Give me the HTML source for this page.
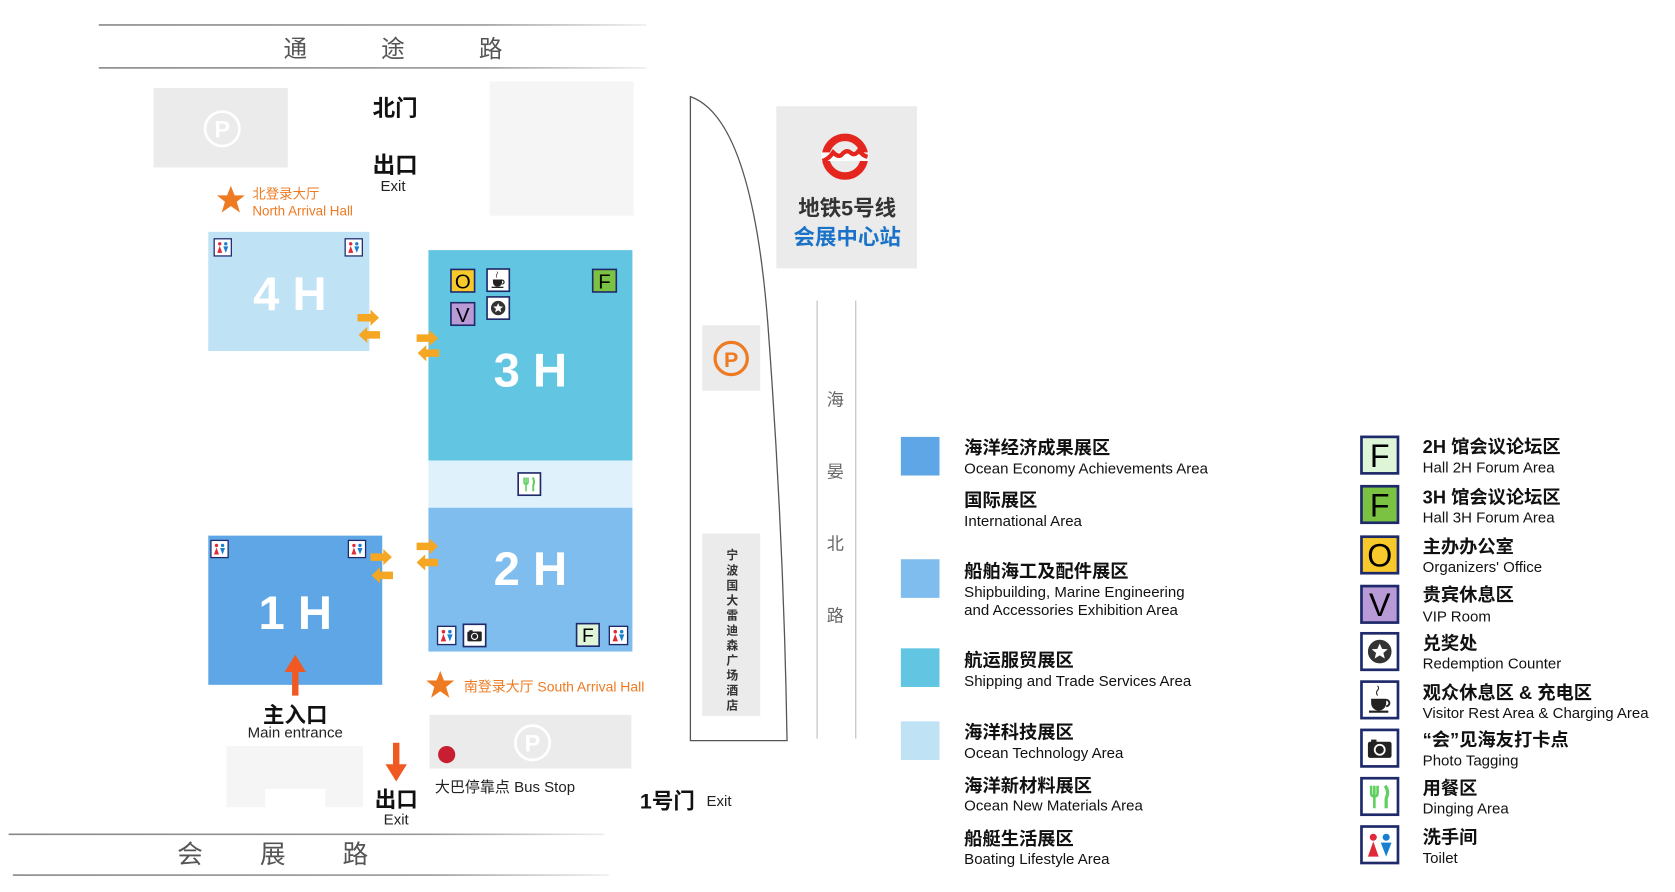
<!DOCTYPE html>
<html><head><meta charset="utf-8"><style>
html,body{margin:0;padding:0;background:#fff;}
svg{display:block;}
text{font-family:"Liberation Sans","Noto Sans CJK SC",sans-serif;}
</style></head><body>
<svg width="1675" height="892" viewBox="0 0 1560 831" preserveAspectRatio="none" xmlns="http://www.w3.org/2000/svg">
<defs>
<linearGradient id="rl" x1="0" x2="1"><stop offset="0" stop-color="#888"/><stop offset="0.7" stop-color="#999"/><stop offset="1" stop-color="#eee"/></linearGradient>
<g id="star"><rect x="1" y="1" width="34" height="34" fill="#fff" stroke="#1f2a6b" stroke-width="2.5"/><circle cx="18" cy="18" r="11" fill="#333"/><polygon points="18,10.5 20.2,15.5 25.5,15.8 21.4,19.2 22.7,24.5 18,21.6 13.3,24.5 14.6,19.2 10.5,15.8 15.8,15.5" fill="#fff"/></g>
<g id="cup"><rect x="1" y="1" width="34" height="34" fill="#fff" stroke="#1f2a6b" stroke-width="2.5"/><path d="M10 17 h14 v4 a7 7 0 0 1 -14 0z" fill="#222"/><path d="M24 18 a3 3 0 0 1 0 6" fill="none" stroke="#222" stroke-width="1.8"/><rect x="8" y="28" width="18" height="2" fill="#222"/><path d="M16 14 q-2 -3 0 -5 q2 -2 0 -4" fill="none" stroke="#222" stroke-width="1"/></g>
<g id="cam"><rect x="1" y="1" width="34" height="34" fill="#fff" stroke="#1f2a6b" stroke-width="2.5"/><rect x="7" y="12" width="22" height="15" rx="2" fill="#222"/><rect x="10" y="10" width="5" height="3" fill="#222"/><circle cx="18" cy="19.5" r="5.5" fill="#fff"/><circle cx="18" cy="19.5" r="3.8" fill="#222"/></g>
<g id="fork"><rect x="1" y="1" width="34" height="34" fill="#fff" stroke="#1f2a6b" stroke-width="2.5"/><path d="M10 8 v7 q0 3 3 3 v11 M16 8 v7 q0 3 -3 3 M13 8 v9" fill="none" stroke="#5fcf5f" stroke-width="2.4"/><path d="M23 8 q4 5 1 12 v9" fill="none" stroke="#5fcf5f" stroke-width="3"/></g>
<g id="wc"><rect x="1" y="1" width="34" height="34" fill="#fff" stroke="#1f2a6b" stroke-width="2.5"/><circle cx="12" cy="11" r="3.3" fill="#e02a3a"/><polygon points="12,15 7,29 17,29" fill="#e02a3a"/><circle cx="24" cy="11" r="3.3" fill="#1a7fd0"/><polygon points="19,16 29,16 24,29" fill="#1a7fd0"/></g>
<g id="ra"><path d="M0 -3.5 h12 v-4 l8 7.5 l-8 7.5 v-4 h-12z" fill="#f5a623"/></g>
<g id="la"><path d="M20 -3.5 h-12 v-4 l-8 7.5 l8 7.5 v-4 h12z" fill="#f5a623"/></g>
</defs>

<rect x="92" y="22.5" width="510" height="1.5" fill="url(#rl)"/>
<rect x="92" y="62.5" width="510" height="1.5" fill="url(#rl)"/>
<g font-size="22" fill="#555" text-anchor="middle"><text x="275" y="53">通</text><text x="366" y="53">途</text><text x="457" y="53">路</text></g>
<rect x="8" y="776.5" width="555" height="1.5" fill="url(#rl)"/>
<rect x="12" y="814.5" width="555" height="1.5" fill="url(#rl)"/>
<g font-size="24" fill="#555" text-anchor="middle"><text x="177" y="804">会</text><text x="254" y="804">展</text><text x="331" y="804">路</text></g>

<rect x="143" y="82" width="125" height="74" fill="#ebebeb"/>
<circle cx="207" cy="120" r="16" fill="none" stroke="#fff" stroke-width="2.5"/><text x="207" y="128" font-size="22" font-weight="bold" fill="#fff" text-anchor="middle">P</text>
<rect x="456" y="76" width="134" height="125" fill="#f5f5f5"/>
<text x="368" y="108" font-size="21" font-weight="bold" text-anchor="middle" fill="#111">北门</text>
<text x="368" y="161" font-size="21" font-weight="bold" text-anchor="middle" fill="#111">出口</text>
<text x="366" y="178" font-size="14" text-anchor="middle" fill="#222">Exit</text>
<polygon points="215,173 218.5,182 228,182 220.5,188 223.5,198 215,192 206.5,198 209.5,188 202,182 211.5,182" fill="#ee7a22"/>
<text x="235" y="185" font-size="12.5" fill="#ee7a22">北登录大厅</text>
<text x="235" y="201" font-size="12.5" fill="#ee7a22">North Arrival Hall</text>

<rect x="194" y="216" width="150" height="111" fill="#bfe2f5"/>
<text x="270" y="289" font-size="44" font-weight="bold" fill="#fff" text-anchor="middle">4 H</text>
<rect x="399" y="233" width="190" height="196" fill="#62c6e3"/>
<text x="494" y="360" font-size="44" font-weight="bold" fill="#fff" text-anchor="middle">3 H</text>
<rect x="399" y="429" width="190" height="44" fill="#dff1fb"/>
<rect x="399" y="473" width="190" height="134" fill="#7fbdee"/>
<text x="494" y="545" font-size="44" font-weight="bold" fill="#fff" text-anchor="middle">2 H</text>
<rect x="194" y="499" width="162" height="139" fill="#5ea6e6"/>
<text x="275" y="586" font-size="44" font-weight="bold" fill="#fff" text-anchor="middle">1 H</text>

<use href="#wc" transform="translate(199,222) scale(0.47)"/>
<use href="#wc" transform="translate(321,222) scale(0.47)"/>
<rect x="420" y="251" width="22" height="21" fill="#f7c92b" stroke="#1f2a6b" stroke-width="1.5"/><text x="431" y="269" font-size="19" text-anchor="middle">O</text>
<rect x="420" y="282" width="22" height="21" fill="#b79ad6" stroke="#1f2a6b" stroke-width="1.5"/><text x="431" y="300" font-size="19" text-anchor="middle">V</text>
<use href="#cup" transform="translate(453,250) scale(0.61)"/>
<use href="#star" transform="translate(453,276) scale(0.61)"/>
<rect x="552" y="251" width="22" height="21" fill="#7cc242" stroke="#1f2a6b" stroke-width="1.5"/><text x="563" y="269" font-size="19" text-anchor="middle">F</text>
<use href="#fork" transform="translate(482,440) scale(0.61)"/>
<use href="#wc" transform="translate(407,583) scale(0.5)"/>
<use href="#cam" transform="translate(431,581) scale(0.61)"/>
<rect x="537" y="581" width="21" height="21" fill="#dff5d8" stroke="#1f2a6b" stroke-width="1.5"/><text x="547.5" y="598" font-size="18" text-anchor="middle">F</text>
<use href="#wc" transform="translate(567,583) scale(0.5)"/>
<use href="#wc" transform="translate(196,503) scale(0.47)"/>
<use href="#wc" transform="translate(324,503) scale(0.47)"/>

<use href="#ra" transform="translate(333,296)"/><use href="#la" transform="translate(334,312)"/>
<use href="#ra" transform="translate(388,315)"/><use href="#la" transform="translate(389,329)"/>
<use href="#ra" transform="translate(345,519)"/><use href="#la" transform="translate(346,536)"/>
<use href="#ra" transform="translate(388,509)"/><use href="#la" transform="translate(388,524)"/>

<path d="M272 648 v-22 h-7 l10 -16 l10 16 h-7 v22z" fill="#f05a22"/>
<text x="275" y="673" font-size="20" font-weight="bold" text-anchor="middle" fill="#111">主入口</text>
<text x="275" y="687" font-size="14" text-anchor="middle" fill="#222">Main entrance</text>
<path d="M211 695 h127 v57 h-35 v-17 h-56 v17 h-36z" fill="#f5f5f5"/>
<path d="M366 692 v20 h-7 l10 16 l10 -16 h-7 v-20z" fill="#f05a22"/>
<text x="369" y="752" font-size="20" font-weight="bold" text-anchor="middle" fill="#111">出口</text>
<text x="369" y="768" font-size="14" text-anchor="middle" fill="#222">Exit</text>
<polygon points="410,625 413.5,634 423,634 415.5,640 418.5,650 410,644 401.5,650 404.5,640 397,634 406.5,634" fill="#ee7a22"/>
<text x="432" y="644" font-size="13" fill="#ee7a22">南登录大厅 South Arrival Hall</text>
<rect x="400" y="666" width="188" height="50" fill="#ebebeb"/>
<circle cx="416" cy="703" r="8" fill="#c81e32"/>
<circle cx="496" cy="692" r="16" fill="none" stroke="#fff" stroke-width="2.5"/><text x="496" y="700" font-size="22" font-weight="bold" fill="#fff" text-anchor="middle">P</text>
<text x="405" y="738" font-size="14" fill="#222">大巴停靠点 Bus Stop</text>
<text x="596" y="753" font-size="20" font-weight="bold" fill="#111">1号门</text>
<text x="658" y="751" font-size="14" fill="#222">Exit</text>

<path d="M643 90 Q700 110 715 300 Q730 500 733 690 H643 Z" fill="#fff" stroke="#555" stroke-width="1.2"/>
<rect x="654" y="303" width="54" height="61" fill="#ebebeb"/>
<circle cx="681" cy="334" r="15" fill="none" stroke="#ee7a22" stroke-width="3"/><text x="681" y="342" font-size="20" font-weight="bold" fill="#ee7a22" text-anchor="middle">P</text>
<rect x="654" y="497" width="54" height="170" fill="#ebebeb"/>
<g font-size="11" fill="#333" text-anchor="middle" font-weight="bold">
<text x="682" y="521">宁</text><text x="682" y="535">波</text><text x="682" y="549">国</text><text x="682" y="563">大</text><text x="682" y="577">雷</text><text x="682" y="591">迪</text><text x="682" y="605">森</text><text x="682" y="619">广</text><text x="682" y="633">场</text><text x="682" y="647">酒</text><text x="682" y="661">店</text></g>
<rect x="760.5" y="280" width="1" height="408" fill="#bbb"/>
<rect x="796.5" y="280" width="1" height="408" fill="#bbb"/>
<g font-size="16" fill="#666" text-anchor="middle"><text x="778" y="378">海</text><text x="778" y="445">晏</text><text x="778" y="512">北</text><text x="778" y="579">路</text></g>

<rect x="723" y="99" width="131" height="151" fill="#ebebeb"/>
<circle cx="787" cy="146" r="18" fill="none" stroke="#e4261f" stroke-width="7"/>
<rect x="765" y="142" width="44" height="8" fill="#fff"/>
<path d="M766 150 q6 -2 10 -8 q5 5 8 2 q4 -5 8 -2 q4 4 8 -2 q3 5 8 6" fill="none" stroke="#e4261f" stroke-width="4"/>
<text x="789" y="201" font-size="20" font-weight="bold" fill="#333" text-anchor="middle">地铁5号线</text>
<text x="789" y="228" font-size="20" font-weight="bold" fill="#1a73c9" text-anchor="middle">会展中心站</text>

<rect x="839" y="407" width="36" height="36" fill="#5ea6e6"/>
<rect x="839" y="521" width="36" height="36" fill="#7fbdee"/>
<rect x="839" y="604" width="36" height="36" fill="#62c6e3"/>
<rect x="839" y="672" width="36" height="36" fill="#bfe2f5"/>
<g fill="#111">
<text x="898" y="423" font-size="17" font-weight="bold">海洋经济成果展区</text><text x="898" y="441" font-size="14">Ocean Economy Achievements Area</text>
<text x="898" y="472" font-size="17" font-weight="bold">国际展区</text><text x="898" y="490" font-size="14">International Area</text>
<text x="898" y="538" font-size="17" font-weight="bold">船舶海工及配件展区</text><text x="898" y="556" font-size="14">Shipbuilding, Marine Engineering</text><text x="898" y="573" font-size="14">and Accessories Exhibition Area</text>
<text x="898" y="621" font-size="17" font-weight="bold">航运服贸展区</text><text x="898" y="639" font-size="14">Shipping and Trade  Services Area</text>
<text x="898" y="688" font-size="17" font-weight="bold">海洋科技展区</text><text x="898" y="706" font-size="14">Ocean Technology Area</text>
<text x="898" y="738" font-size="17" font-weight="bold">海洋新材料展区</text><text x="898" y="755" font-size="14">Ocean New Materials Area</text>
<text x="898" y="787" font-size="17" font-weight="bold">船艇生活展区</text><text x="898" y="805" font-size="14">Boating Lifestyle Area</text>
</g>

<rect x="1268" y="407" width="34" height="34" fill="#dff5d8" stroke="#1f2a6b" stroke-width="2.5"/><text x="1285" y="435" font-size="30" text-anchor="middle">F</text>
<rect x="1268" y="453" width="34" height="34" fill="#7cc242" stroke="#1f2a6b" stroke-width="2.5"/><text x="1285" y="481" font-size="30" text-anchor="middle">F</text>
<rect x="1268" y="500" width="34" height="34" fill="#f7c92b" stroke="#1f2a6b" stroke-width="2.5"/><text x="1285" y="528" font-size="30" text-anchor="middle">O</text>
<rect x="1268" y="546" width="34" height="34" fill="#b79ad6" stroke="#1f2a6b" stroke-width="2.5"/><text x="1285" y="574" font-size="30" text-anchor="middle">V</text>
<use href="#star" transform="translate(1267,589)"/>
<use href="#cup" transform="translate(1267,634)"/>
<use href="#cam" transform="translate(1267,679)"/>
<use href="#fork" transform="translate(1267,724)"/>
<use href="#wc" transform="translate(1267,769)"/>
<g fill="#111">
<text x="1325" y="422" font-size="17" font-weight="bold">2H 馆会议论坛区</text><text x="1325" y="440" font-size="14">Hall 2H Forum Area</text>
<text x="1325" y="469" font-size="17" font-weight="bold">3H 馆会议论坛区</text><text x="1325" y="487" font-size="14">Hall 3H Forum Area</text>
<text x="1325" y="515" font-size="17" font-weight="bold">主办办公室</text><text x="1325" y="533" font-size="14">Organizers' Office</text>
<text x="1325" y="560" font-size="17" font-weight="bold">贵宾休息区</text><text x="1325" y="579" font-size="14">VIP Room</text>
<text x="1325" y="605" font-size="17" font-weight="bold">兑奖处</text><text x="1325" y="623" font-size="14">Redemption Counter</text>
<text x="1325" y="651" font-size="17" font-weight="bold">观众休息区 &amp; 充电区</text><text x="1325" y="669" font-size="14">Visitor Rest Area &amp; Charging Area</text>
<text x="1325" y="695" font-size="17" font-weight="bold">“会”见海友打卡点</text><text x="1325" y="713" font-size="14">Photo Tagging</text>
<text x="1325" y="740" font-size="17" font-weight="bold">用餐区</text><text x="1325" y="758" font-size="14">Dinging Area</text>
<text x="1325" y="786" font-size="17" font-weight="bold">洗手间</text><text x="1325" y="804" font-size="14">Toilet</text>
</g>
</svg>
</body></html>
